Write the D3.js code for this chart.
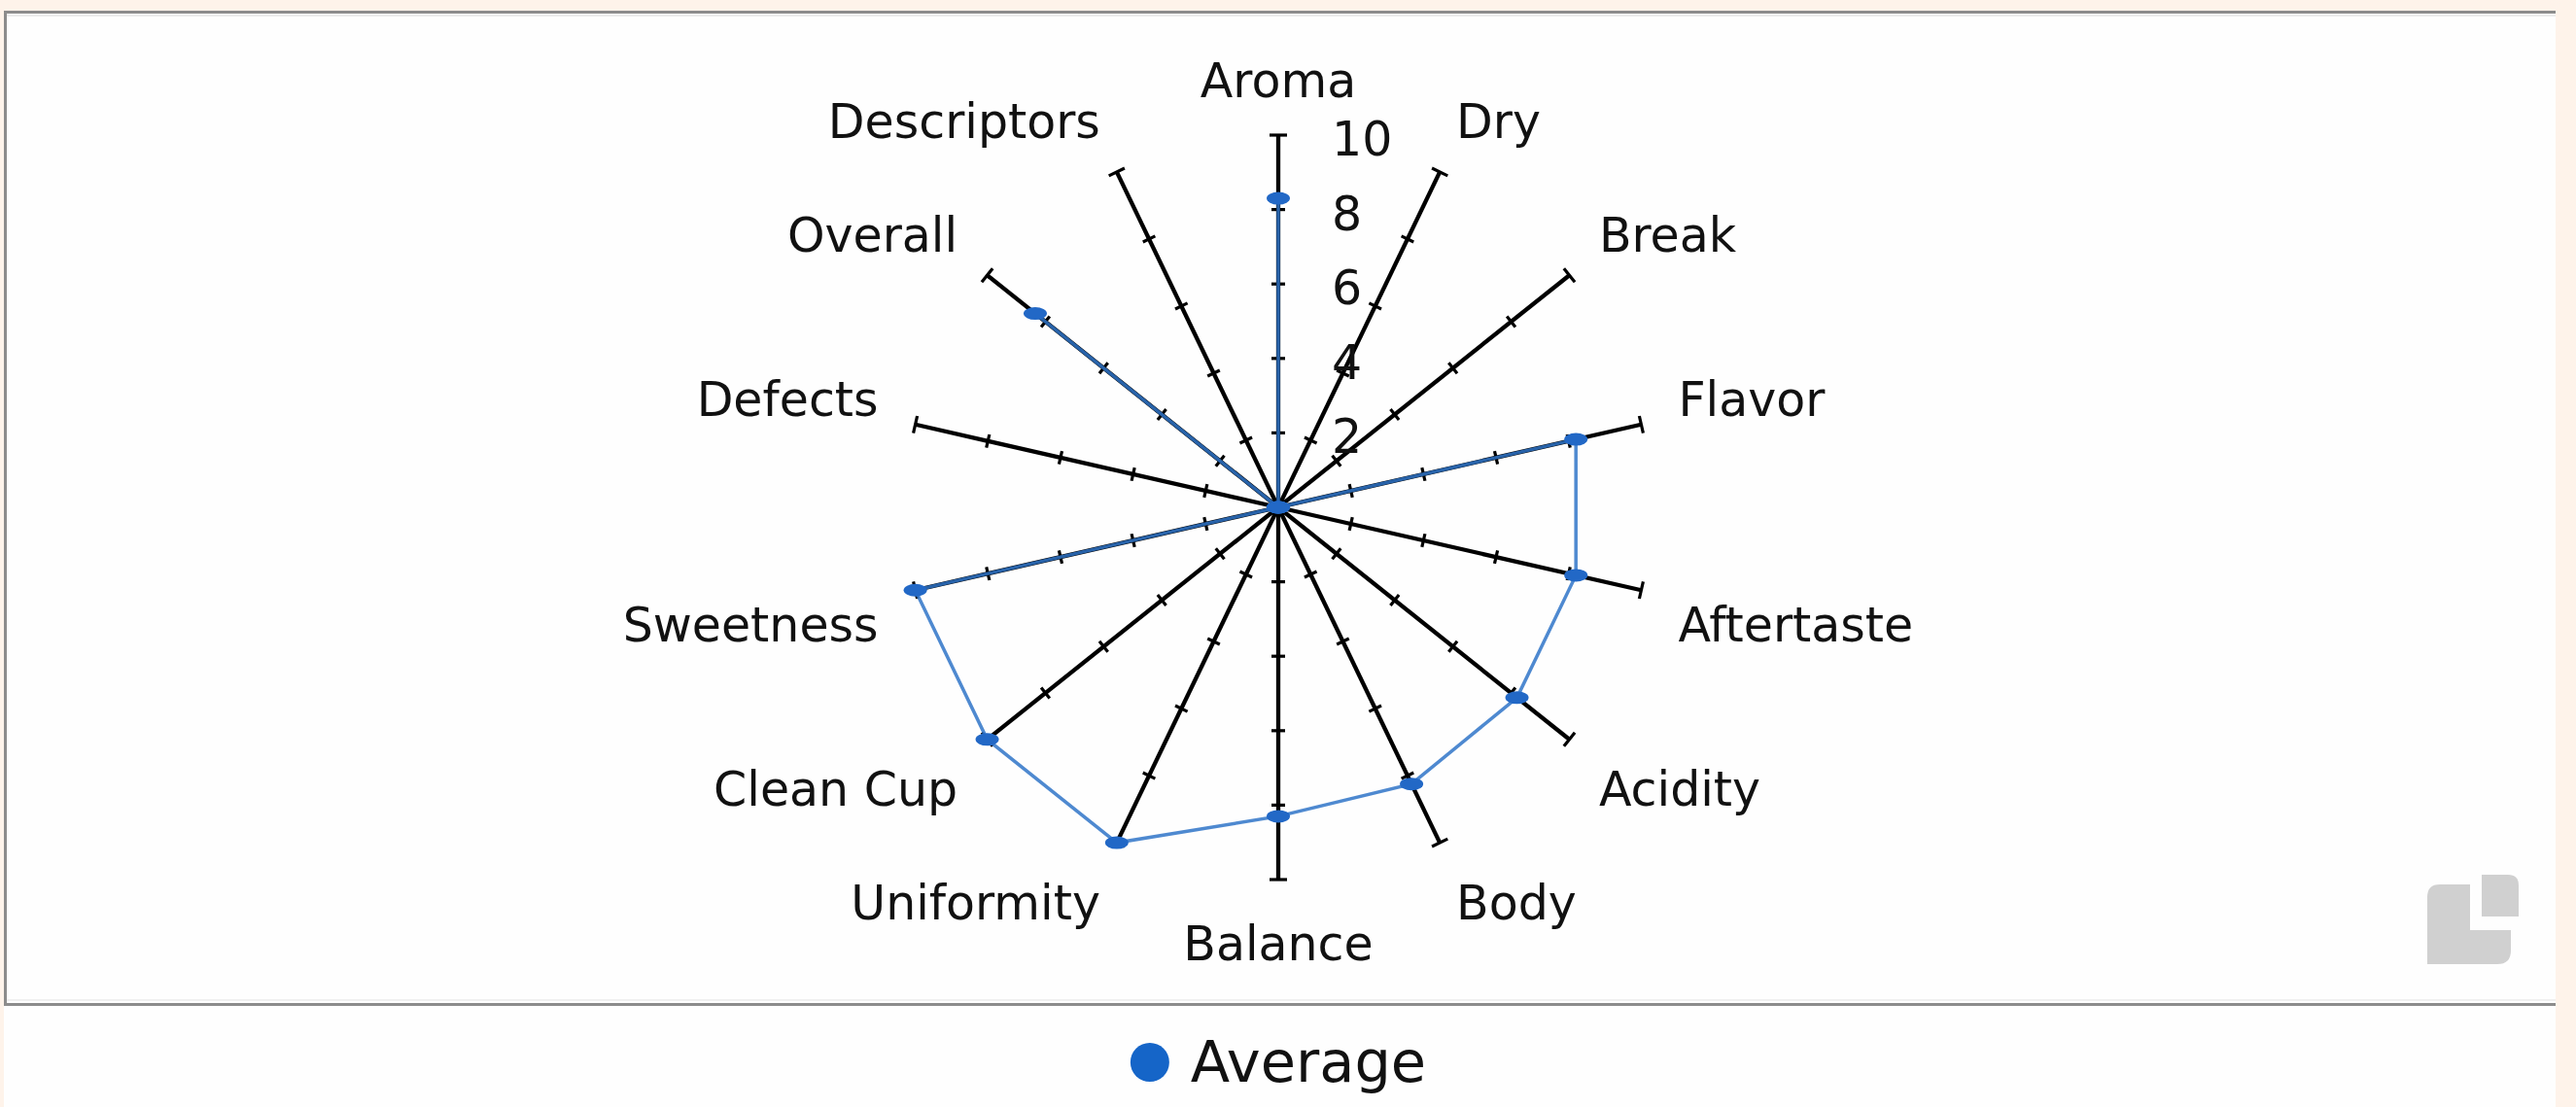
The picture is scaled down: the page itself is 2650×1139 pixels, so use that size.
<!DOCTYPE html>
<html>
<head>
<meta charset="utf-8">
<script src="https://cdn.jsdelivr.net/npm/d3@7"></script>
<style>
  html, body { margin: 0; padding: 0; background: #fef3ea; }
  svg { display: block; }
  text { font-family: 'DejaVu Sans', sans-serif; fill: #111; }
</style>
</head>
<body>
<svg id="chart" width="2650" height="1139"></svg>
<script>
// ---- data ----
const categories = ["Aroma", "Dry", "Break", "Flavor", "Aftertaste", "Acidity", "Body",
  "Balance", "Uniformity", "Clean Cup", "Sweetness", "Defects", "Overall", "Descriptors"];
const averageValues = [8.3, 0, 0, 8.2, 8.2, 8.2, 8.25, 8.3, 10, 10, 10, 0, 8.35, 0];
const tickValues = [2, 4, 6, 8, 10];
const tickLabels = ["2", "4", "6", "8", "10"];
const seriesName = "Average";

// ---- layout ----
const W = 2650, H = 1139;
const cx = 1315, cy = 522;
const svg = d3.select("#chart");

// panel
svg.append("rect").attr("x", 4).attr("y", 11).attr("width", 2625).attr("height", H - 11).attr("fill", "#fefefe");
svg.append("line").attr("x1", 4).attr("x2", 2629).attr("y1", 12.5).attr("y2", 12.5).attr("stroke", "#8c8c8c").attr("stroke-width", 3);
svg.append("line").attr("x1", 5.5).attr("x2", 5.5).attr("y1", 11).attr("y2", 1035).attr("stroke", "#8c8c8c").attr("stroke-width", 3);
svg.append("line").attr("x1", 4).attr("x2", 2629).attr("y1", 1033.5).attr("y2", 1033.5).attr("stroke", "#8c8c8c").attr("stroke-width", 3);
svg.append("line").attr("x1", 7).attr("x2", 2629).attr("y1", 16).attr("y2", 16).attr("stroke", "#ececec").attr("stroke-width", 2);
svg.append("line").attr("x1", 7).attr("x2", 2629).attr("y1", 1029).attr("y2", 1029).attr("stroke", "#f0f0f0").attr("stroke-width", 2);

// watermark logo
const logo = svg.append("g").attr("fill", "#d0d0d0");
logo.append("path").attr("d",
  "M2510,910 L2541,910 L2541,957 L2583,957 L2583,978 Q2583,992 2569,992 L2497,992 L2497,923 Q2497,910 2510,910 Z");
logo.append("path").attr("d",
  "M2553,900 L2580,900 Q2591,900 2591,911 L2591,943 L2553,943 Z");

// scales
const r = d3.scaleLinear().domain([0, 10]).range([0, 383]);
const angle = d3.scaleLinear().domain([0, categories.length]).range([0, 2 * Math.PI]);

const g = svg.append("g").attr("transform", `translate(${cx},${cy})`);

// axes with ticks
const axes = g.selectAll("g.axis").data(categories).enter().append("g")
  .attr("class", "axis")
  .attr("transform", (d, i) => `rotate(${angle(i) * 180 / Math.PI})`);
axes.append("line")
  .attr("x1", 0).attr("y1", 0).attr("x2", 0).attr("y2", -r(10))
  .attr("stroke", "#000").attr("stroke-width", 4.3);
axes.selectAll("line.tick").data(tickValues).enter().append("line")
  .attr("class", "tick")
  .attr("x1", v => v === 10 ? -9 : -7).attr("x2", v => v === 10 ? 9 : 7)
  .attr("y1", v => -r(v)).attr("y2", v => -r(v))
  .attr("stroke", "#000").attr("stroke-width", 3.2);

// series line
const radial = d3.lineRadial()
  .angle((d, i) => angle(i))
  .radius(d => r(d))
  .curve(d3.curveLinearClosed);
g.append("path")
  .datum(averageValues)
  .attr("d", radial)
  .attr("fill", "none")
  .attr("stroke", "#2f74c8")
  .attr("stroke-opacity", 0.85)
  .attr("stroke-width", 3.5);

// markers
g.selectAll("ellipse.pt").data(averageValues).enter().append("ellipse")
  .attr("class", "pt")
  .attr("cx", (d, i) => r(d) * Math.sin(angle(i)))
  .attr("cy", (d, i) => -r(d) * Math.cos(angle(i)))
  .attr("rx", 12).attr("ry", 6.5)
  .attr("fill", "#2268c6");

// radial tick labels (on Aroma axis)
g.selectAll("text.rtick").data(tickValues).enter().append("text")
  .attr("class", "rtick")
  .attr("x", 55)
  .attr("y", v => -r(v) + 21)
  .attr("font-size", 49)
  .text((v, i) => tickLabels[i]);

// category labels
const labelR = r(10) + 39;
g.selectAll("text.cat").data(categories).enter().append("text")
  .attr("class", "cat")
  .attr("font-size", 49)
  .attr("x", (d, i) => labelR * Math.sin(angle(i)))
  .attr("y", (d, i) => {
    const c = Math.cos(angle(i));
    return -labelR * c + (c >= 0 ? 0 : 44);
  })
  .attr("text-anchor", (d, i) => {
    const s = Math.sin(angle(i));
    return s > 0.01 ? "start" : (s < -0.01 ? "end" : "middle");
  })
  .text(d => d);

// legend
const leg = svg.append("g");
const legText = leg.append("text").attr("font-size", 59).attr("y", 1113).text(seriesName);
const tw = legText.node().getComputedTextLength();
const total = 40 + 22 + tw;
const x0 = cx - total / 2;
leg.append("circle").attr("cx", x0 + 20).attr("cy", 1093).attr("r", 20).attr("fill", "#1565c8");
legText.attr("x", x0 + 62);
</script>
</body>
</html>
